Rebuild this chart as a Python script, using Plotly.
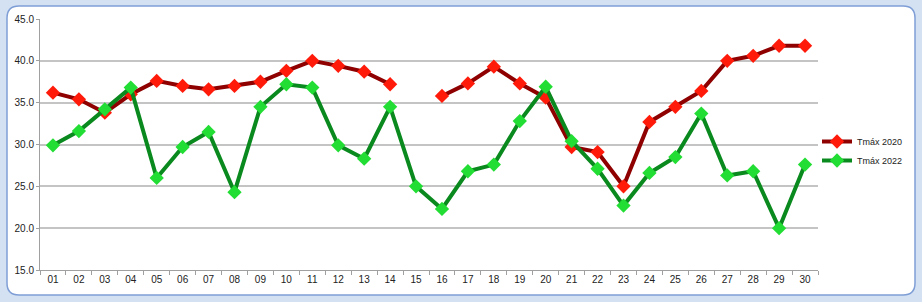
import plotly.graph_objects as go

days = ["01","02","03","04","05","06","07","08","09","10",
        "11","12","13","14","15","16","17","18","19","20",
        "21","22","23","24","25","26","27","28","29","30"]
tmax_2020 = [36.2, 35.4, 33.8, 36.0, 37.6, 37.0, 36.6, 37.0, 37.5, 38.8,
             40.0, 39.4, 38.7, 37.2, None, 35.8, 37.3, 39.3, 37.3, 35.6,
             29.7, 29.1, 25.0, 32.7, 34.5, 36.4, 40.0, 40.6, 41.8, 41.8]
tmax_2022 = [29.9, 31.6, 34.2, 36.8, 26.0, 29.7, 31.5, 24.3, 34.5, 37.2,
             36.8, 29.9, 28.3, 34.5, 25.0, 22.3, 26.8, 27.6, 32.8, 36.9,
             30.4, 27.1, 22.7, 26.6, 28.5, 33.7, 26.3, 26.8, 20.0, 27.6]
y_ticks = [15, 20, 25, 30, 35, 40, 45]

fig = go.Figure()
fig.add_trace(go.Scatter(
    x=days, y=tmax_2020, name="Tmáx 2020", mode="lines+markers",
    line=dict(color="#8f0000", width=4),
    marker=dict(symbol="diamond", size=11, color="#ff1a0a"),
))
fig.add_trace(go.Scatter(
    x=days, y=tmax_2022, name="Tmáx 2022", mode="lines+markers",
    line=dict(color="#0a8a1e", width=4),
    marker=dict(symbol="diamond", size=11, color="#22dd33"),
))

# chart frame (rounded rectangle) in paper coordinates
L, R, T, B = 40, 818, 19, 270
def px(x): return (x - L) / (R - L)
def py(y): return (B - y) / (B - T)
x0, x1, y0, y1 = px(7), px(915), py(295), py(6)
rx, ry = 12 / (R - L), 12 / (B - T)
path = (f"M {x0+rx} {y1} L {x1-rx} {y1} Q {x1} {y1} {x1} {y1-ry} "
        f"L {x1} {y0+ry} Q {x1} {y0} {x1-rx} {y0} L {x0+rx} {y0} "
        f"Q {x0} {y0} {x0} {y0+ry} L {x0} {y1-ry} Q {x0} {y1} {x0+rx} {y1} Z")
fig.add_shape(type="path", path=path, xref="paper", yref="paper",
              fillcolor="white", line=dict(color="#7f9ed6", width=1.5),
              layer="below")

fig.update_layout(
    width=922, height=302,
    margin=dict(l=L, r=922 - R, t=T, b=302 - B),
    paper_bgcolor="#d3e1f3",
    plot_bgcolor="rgba(0,0,0,0)",
    font=dict(family="Liberation Sans, Arial, sans-serif", size=10, color="#222222"),
    showlegend=True,
    legend=dict(x=px(817), y=py(151), xanchor="left", yanchor="middle",
                bgcolor="rgba(0,0,0,0)", font=dict(size=9, color="#222222"),
                itemwidth=30, tracegroupgap=0, borderwidth=0),
)
fig.update_xaxes(
    type="category", range=[-0.5, len(days) - 0.5], tickson="boundaries",
    ticks="outside", ticklen=4,
    tickcolor="#a0a0a0", showline=True, linecolor="#a0a0a0", linewidth=1,
    showgrid=False, tickfont=dict(size=10), fixedrange=True,
)
fig.update_yaxes(
    range=[15, 45], tickvals=y_ticks, tickformat=".1f", ticks="outside",
    ticklen=3, tickcolor="#a0a0a0", showline=True, linecolor="#a0a0a0",
    linewidth=1, showgrid=True, gridcolor="#c4c4c4", gridwidth=1.5,
    zeroline=False, tickfont=dict(size=10), fixedrange=True,
)

fig.write_html("out.html")
